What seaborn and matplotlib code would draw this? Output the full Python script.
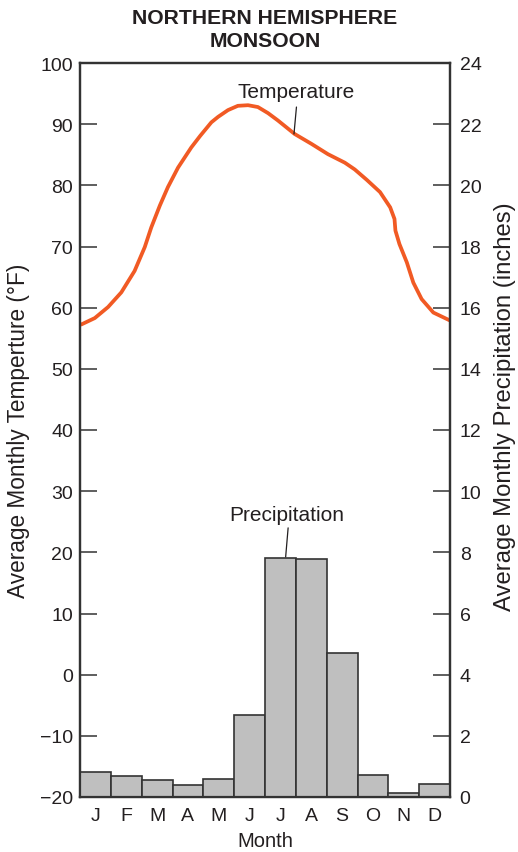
import matplotlib
matplotlib.use("Agg")
import matplotlib.pyplot as plt
import seaborn as sns
import pandas as pd
import numpy as np

# ---- data ----
months = ["J", "F", "M", "A", "M", "J", "J", "A", "S", "O", "N", "D"]
precip_in = [0.83, 0.70, 0.57, 0.39, 0.59, 2.69, 7.80, 7.78, 4.72, 0.73, 0.13, 0.41]

# temperature curve samples (x in month-index units, J=0 ... D=11)
temp_x = [-0.48, -0.02, 0.41, 0.84, 1.27, 1.60, 1.81, 2.09, 2.35, 2.68, 3.11, 3.40,
          3.76, 3.98, 4.30, 4.62, 4.95, 5.27, 5.60, 5.92, 6.46, 7.00, 7.54, 8.09, 8.41,
          8.80, 9.23, 9.56, 9.70, 9.73, 9.86, 10.10, 10.31, 10.58, 10.96, 11.50]
temp_f = [57.2, 58.3, 60.1, 62.5, 66.0, 69.9, 73.1, 76.7, 79.7, 82.9, 86.2, 88.1,
          90.3, 91.2, 92.3, 93.0, 93.1, 92.8, 91.8, 90.6, 88.4, 86.8, 85.1, 83.7, 82.6,
          80.9, 78.9, 76.4, 74.5, 72.6, 70.4, 67.4, 64.1, 61.4, 59.2, 57.9]

temp_ticks = list(range(-20, 101, 10))
precip_ticks = list(range(0, 25, 2))

title = "NORTHERN HEMISPHERE\nMONSOON"
xlabel = "Month"
ylabel_left = "Average Monthly Temperture (°F)"
ylabel_right = "Average Monthly Precipitation (inches)"

# ---- style ----
sns.set_theme(style="white")
plt.rcParams["font.family"] = ["Liberation Sans", "DejaVu Sans"]
ink = "#231f20"
frame = "#333333"
plt.rcParams["text.color"] = ink
plt.rcParams["axes.labelcolor"] = ink
plt.rcParams["xtick.color"] = ink
plt.rcParams["ytick.color"] = ink

fig = plt.figure(figsize=(5.18, 8.53), dpi=100)
ax1 = fig.add_axes([80 / 518, 55 / 853, 370 / 518, 734 / 853])
ax2 = ax1.twinx()

# temperature line
tdf = pd.DataFrame({"x": temp_x, "T": temp_f})
sns.lineplot(data=tdf, x="x", y="T", ax=ax1, color="#f15a24", linewidth=2.7,
             sort=False, estimator=None)
for ln in ax1.lines:
    ln.set_solid_joinstyle("round")
    ln.set_solid_capstyle("butt")

# precipitation bars
pdf = pd.DataFrame({"month": [f"{i}" for i in range(12)], "P": precip_in})
sns.barplot(data=pdf, x="month", y="P", ax=ax2, color="#bfbfbf", width=1.0,
            saturation=1, edgecolor=frame, linewidth=1.2)

ax1.set_xlim(-0.5, 11.5)
ax1.set_ylim(-20, 100)
ax2.set_ylim(0, 24)

ax1.set_xticks(range(12))
ax1.set_xticklabels(months, fontsize=14)
ax1.set_yticks(temp_ticks)
ax1.set_yticklabels([str(t).replace("-", "\u2212") for t in temp_ticks], fontsize=14)
ax2.set_yticks(precip_ticks)
ax2.set_yticklabels([str(t) for t in precip_ticks], fontsize=14)

ax1.tick_params(axis="x", length=0, pad=7)
ax1.tick_params(axis="y", direction="in", length=12, width=1.1, color=frame, pad=5,
                left=True, right=False)
ax2.tick_params(axis="y", direction="in", length=12, width=1.1, color=frame, pad=7,
                right=True, left=False)

ax1.set_xlabel(xlabel, fontsize=14.5, labelpad=5)
ax1.set_ylabel(ylabel_left, fontsize=16.3, labelpad=7)
ax2.set_ylabel(ylabel_right, fontsize=17.2, rotation=90)
ax2.yaxis.set_label_coords(1.119, 0.533)
ax2.set_xlabel("")

for ax in (ax1, ax2):
    for s in ax.spines.values():
        s.set_color(frame)
        s.set_linewidth(1.6)

# annotations
ax1.text(6.51, 95.3, "Temperature", fontsize=15, ha="center", va="center", color=ink)
ax1.plot([6.52, 6.44], [92.8, 88.4], color=ink, linewidth=0.9)
ax2.text(6.21, 9.25, "Precipitation", fontsize=15, ha="center", va="center", color=ink)
ax2.plot([6.25, 6.17], [8.8, 7.85], color=ink, linewidth=0.9)

ax1.set_title(title, fontsize=15.2, fontweight="bold", pad=12, linespacing=1.3, color=ink)

fig.savefig("out.png", dpi=100)
